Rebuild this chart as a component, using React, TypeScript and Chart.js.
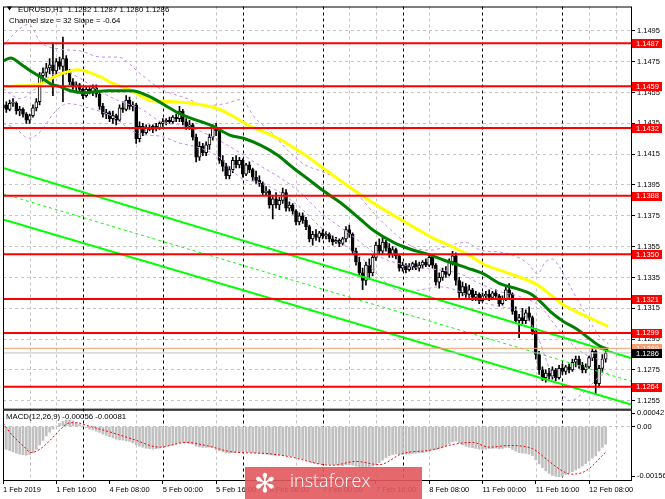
import React, { useEffect, useRef } from 'react';
import { Chart, registerables } from 'chart.js';

Chart.register(...registerables);

// ---------- DATA ----------
const symbolText = 'EURUSD,H1';
const lastOHLC = [1.1282, 1.1287, 1.128, 1.1286];
const channelText = 'Channel size = 32 Slope = -0.64';
const macdText = 'MACD(12,26,9) -0.00056 -0.00081';

const xLabelBars = [0, 16, 32, 48, 64, 80, 96, 112, 128, 144, 160, 176];
const xLabels = ['1 Feb 2019', '1 Feb 16:00', '4 Feb 08:00', '5 Feb 00:00', '5 Feb 16:00', '6 Feb 08:00', '7 Feb 00:00', '7 Feb 16:00', '8 Feb 08:00', '11 Feb 00:00', '11 Feb 16:00', '12 Feb 08:00'];
const gridBars = [8, 16, 40, 64, 88, 104, 112, 128, 160, 176, 184];
const separatorBars = [24, 48, 72, 96, 120, 144, 168];
const priceTicks = [1.1255, 1.1275, 1.1295, 1.1315, 1.1335, 1.1355, 1.1375, 1.1395, 1.1415, 1.1435, 1.1455, 1.1475, 1.1495];
const macdTicks = [0.00042, 0, -0.00156];

const levels = [1.1487, 1.1459, 1.1432, 1.1388, 1.135, 1.1321, 1.1299, 1.1264];
const askLevel = 1.1289;
const bidLevel = 1.1286;

const opens = [
  1.1445, 1.1447, 1.1444, 1.1448, 1.1448, 1.1443, 1.1444, 1.1441, 1.1437, 1.144,
  1.1445, 1.1449, 1.1466, 1.1468, 1.1471, 1.1473, 1.1469, 1.1475, 1.1472, 1.1477,
  1.1469, 1.1462, 1.1459, 1.146, 1.1457, 1.1453, 1.1457, 1.1455, 1.1458, 1.1454,
  1.1446, 1.1441, 1.1442, 1.1438, 1.144, 1.1437, 1.1445, 1.1444, 1.145, 1.1446,
  1.1447, 1.1425, 1.1433, 1.1429, 1.1432, 1.1431, 1.1433, 1.1432, 1.1435, 1.1436,
  1.1437, 1.1436, 1.1439, 1.1438, 1.1443, 1.1436, 1.1433, 1.1434, 1.1426, 1.1413,
  1.142, 1.1416, 1.1421, 1.1426, 1.1432, 1.143, 1.1411, 1.1407, 1.1401, 1.1405,
  1.1411, 1.1408, 1.1411, 1.1402, 1.1408, 1.1405, 1.14, 1.1398, 1.1396, 1.139,
  1.1391, 1.1382, 1.1386, 1.1382, 1.1385, 1.139, 1.138, 1.1382, 1.1378, 1.1371,
  1.1375, 1.1372, 1.1368, 1.136, 1.1363, 1.1361, 1.1364, 1.1362, 1.1363, 1.136,
  1.1358, 1.1359, 1.1357, 1.136, 1.1366, 1.1363, 1.1352, 1.1345, 1.1338, 1.1333,
  1.1343, 1.1338, 1.1348, 1.1356, 1.1352, 1.1358, 1.1354, 1.135, 1.1353, 1.1349,
  1.1341, 1.1343, 1.134, 1.1342, 1.1344, 1.1341, 1.1343, 1.1345, 1.1343, 1.1348,
  1.1343, 1.1332, 1.1335, 1.1339, 1.1337, 1.1345, 1.1349, 1.1333, 1.1325, 1.1329,
  1.1324, 1.1327, 1.1322, 1.1324, 1.132, 1.1323, 1.1324, 1.1322, 1.1325, 1.1323,
  1.1318, 1.1321, 1.1327, 1.1324, 1.1313, 1.1307, 1.1309, 1.1307, 1.1312, 1.1309,
  1.13, 1.1285, 1.1275, 1.127, 1.1273, 1.1271, 1.1275, 1.127, 1.1276, 1.1274,
  1.1277, 1.1275, 1.128, 1.1282, 1.1278, 1.1275, 1.1277, 1.1283, 1.1287, 1.1266,
  1.1276, 1.1282,
];
const highs = [
  1.145, 1.1449, 1.145, 1.1451, 1.1449, 1.1446, 1.1445, 1.1442, 1.1441, 1.1447,
  1.1451, 1.1468, 1.1471, 1.1474, 1.1477, 1.1487, 1.1477, 1.1478, 1.1491, 1.1479,
  1.147, 1.1464, 1.1462, 1.1461, 1.1458, 1.1459, 1.1459, 1.146, 1.146, 1.1455,
  1.1448, 1.1444, 1.1443, 1.1443, 1.1441, 1.1447, 1.1449, 1.1453, 1.1452, 1.1449,
  1.1448, 1.1436, 1.1435, 1.1434, 1.1434, 1.1434, 1.1435, 1.1436, 1.1438, 1.1438,
  1.1439, 1.144, 1.1441, 1.1446, 1.1444, 1.1438, 1.1437, 1.1435, 1.1428, 1.1423,
  1.1422, 1.1423, 1.1428, 1.1434, 1.1435, 1.1431, 1.1414, 1.1409, 1.1407, 1.1413,
  1.1414, 1.1413, 1.1412, 1.1409, 1.141, 1.1406, 1.1404, 1.1401, 1.1397, 1.1394,
  1.1392, 1.1388, 1.139, 1.1387, 1.1393, 1.1392, 1.1384, 1.1383, 1.1379, 1.1377,
  1.1377, 1.1374, 1.1369, 1.1365, 1.1366, 1.1365, 1.1366, 1.1365, 1.1364, 1.1362,
  1.1361, 1.136, 1.1361, 1.1368, 1.1369, 1.1364, 1.1354, 1.1348, 1.1341, 1.1345,
  1.1347, 1.135, 1.1358, 1.136, 1.1361, 1.1359, 1.1357, 1.1355, 1.1354, 1.135,
  1.1345, 1.1344, 1.1344, 1.1345, 1.1346, 1.1345, 1.1346, 1.1347, 1.135, 1.1349,
  1.1344, 1.1338, 1.1341, 1.1342, 1.1347, 1.1352, 1.1351, 1.1335, 1.1332, 1.1331,
  1.133, 1.1328, 1.1326, 1.1325, 1.1325, 1.1326, 1.1327, 1.1326, 1.1327, 1.1324,
  1.1323, 1.1329, 1.1331, 1.1325, 1.1316, 1.1311, 1.1315, 1.1314, 1.1316, 1.131,
  1.1302, 1.1287, 1.1277, 1.1275, 1.1276, 1.1277, 1.1276, 1.1278, 1.1279, 1.1278,
  1.1279, 1.1282, 1.1284, 1.1284, 1.128, 1.1279, 1.1284, 1.1289, 1.1288, 1.1278,
  1.1285, 1.1287,
];
const lows = [
  1.1441, 1.1442, 1.1443, 1.1446, 1.1441, 1.144, 1.1439, 1.1435, 1.1435, 1.1439,
  1.1443, 1.1447, 1.1462, 1.1465, 1.1467, 1.1453, 1.1466, 1.147, 1.1449, 1.1467,
  1.146, 1.1457, 1.1456, 1.1455, 1.1451, 1.1452, 1.1454, 1.1453, 1.1452, 1.1444,
  1.1439, 1.1438, 1.1436, 1.1435, 1.1434, 1.1436, 1.1442, 1.1443, 1.1444, 1.1443,
  1.1422, 1.1423, 1.1427, 1.1428, 1.143, 1.1429, 1.143, 1.1431, 1.1433, 1.1434,
  1.1435, 1.1435, 1.1436, 1.1436, 1.1434, 1.1431, 1.1431, 1.1424, 1.141, 1.1411,
  1.1414, 1.1414, 1.1418, 1.1424, 1.1427, 1.1409, 1.1404, 1.1399, 1.1399, 1.1403,
  1.1406, 1.1406, 1.14, 1.1401, 1.1403, 1.1398, 1.1396, 1.1394, 1.1388, 1.1388,
  1.138, 1.1373, 1.138, 1.1379, 1.1383, 1.1378, 1.1378, 1.1376, 1.1369, 1.1369,
  1.137, 1.1366, 1.1358, 1.1356, 1.1359, 1.1358, 1.136, 1.136, 1.1358, 1.1356,
  1.1357, 1.1355, 1.1356, 1.1358, 1.1361, 1.135, 1.1343, 1.1336, 1.1327, 1.133,
  1.1335, 1.1336, 1.1346, 1.135, 1.135, 1.1352, 1.1348, 1.1348, 1.1347, 1.1339,
  1.1339, 1.1338, 1.1339, 1.134, 1.134, 1.1339, 1.1341, 1.1342, 1.1342, 1.1341,
  1.133, 1.1328, 1.1333, 1.1335, 1.1336, 1.1343, 1.133, 1.1322, 1.1323, 1.1322,
  1.1322, 1.132, 1.132, 1.1318, 1.1319, 1.1321, 1.132, 1.1321, 1.1322, 1.1316,
  1.1317, 1.132, 1.1322, 1.1311, 1.1305, 1.1296, 1.1305, 1.1305, 1.1307, 1.1298,
  1.1282, 1.1272, 1.1268, 1.1267, 1.1269, 1.1269, 1.1268, 1.1269, 1.1272, 1.1272,
  1.1273, 1.1274, 1.1277, 1.1276, 1.1273, 1.1273, 1.1276, 1.1281, 1.1259, 1.1264,
  1.1274, 1.128,
];
const closes = [
  1.1447, 1.1444, 1.1448, 1.1448, 1.1443, 1.1444, 1.1441, 1.1437, 1.144, 1.1445,
  1.1449, 1.1466, 1.1468, 1.1471, 1.1473, 1.1469, 1.1475, 1.1472, 1.1477, 1.1469,
  1.1462, 1.1459, 1.146, 1.1457, 1.1453, 1.1457, 1.1455, 1.1458, 1.1454, 1.1446,
  1.1441, 1.1442, 1.1438, 1.144, 1.1437, 1.1445, 1.1444, 1.145, 1.1446, 1.1447,
  1.1425, 1.1433, 1.1429, 1.1432, 1.1431, 1.1433, 1.1432, 1.1435, 1.1436, 1.1437,
  1.1436, 1.1439, 1.1438, 1.1443, 1.1436, 1.1433, 1.1434, 1.1426, 1.1413, 1.142,
  1.1416, 1.1421, 1.1426, 1.1432, 1.143, 1.1411, 1.1407, 1.1401, 1.1405, 1.1411,
  1.1408, 1.1411, 1.1402, 1.1408, 1.1405, 1.14, 1.1398, 1.1396, 1.139, 1.1391,
  1.1382, 1.1386, 1.1382, 1.1385, 1.139, 1.138, 1.1382, 1.1378, 1.1371, 1.1375,
  1.1372, 1.1368, 1.136, 1.1363, 1.1361, 1.1364, 1.1362, 1.1363, 1.136, 1.1358,
  1.1359, 1.1357, 1.136, 1.1366, 1.1363, 1.1352, 1.1345, 1.1338, 1.1333, 1.1343,
  1.1338, 1.1348, 1.1356, 1.1352, 1.1358, 1.1354, 1.135, 1.1353, 1.1349, 1.1341,
  1.1343, 1.134, 1.1342, 1.1344, 1.1341, 1.1343, 1.1345, 1.1343, 1.1348, 1.1343,
  1.1332, 1.1335, 1.1339, 1.1337, 1.1345, 1.1349, 1.1333, 1.1325, 1.1329, 1.1324,
  1.1327, 1.1322, 1.1324, 1.132, 1.1323, 1.1324, 1.1322, 1.1325, 1.1323, 1.1318,
  1.1321, 1.1327, 1.1324, 1.1313, 1.1307, 1.1309, 1.1307, 1.1312, 1.1309, 1.13,
  1.1285, 1.1275, 1.127, 1.1273, 1.1271, 1.1275, 1.127, 1.1276, 1.1274, 1.1277,
  1.1275, 1.128, 1.1282, 1.1278, 1.1275, 1.1277, 1.1283, 1.1287, 1.1266, 1.1276,
  1.1282, 1.1286,
];

const macdHist = [
  -0.00069, -0.00072, -0.00076, -0.0008, -0.00084, -0.00087, -0.00089, -0.0009, -0.00088, -0.00082,
  -0.00072, -0.00058, -0.00044, -0.0003, -0.00018, -0.00008, 0.00002, 0.0001, 0.00016, 0.0002,
  0.00021, 0.00018, 0.00012, 0.00006, 0.00002, -0.00004, -0.00008, -0.00011, -0.00015, -0.00019,
  -0.00024, -0.00028, -0.00032, -0.00036, -0.0004, -0.00042, -0.00043, -0.00045, -0.00047, -0.00052,
  -0.00058, -0.00062, -0.00065, -0.00068, -0.0007, -0.00071, -0.0007, -0.00068, -0.00064, -0.00061,
  -0.0006, -0.00058, -0.00055, -0.00052, -0.0005, -0.00051, -0.00053, -0.00056, -0.00062, -0.00064,
  -0.00066, -0.00066, -0.00065, -0.00066, -0.00072, -0.00076, -0.0008, -0.00083, -0.00084, -0.00082,
  -0.00081, -0.0008, -0.00081, -0.0008, -0.00081, -0.00082, -0.00083, -0.00084, -0.00086, -0.00087,
  -0.00089, -0.0009, -0.00091, -0.0009, -0.0009, -0.00092, -0.00093, -0.00094, -0.00097, -0.001,
  -0.00102, -0.00106, -0.0011, -0.00114, -0.00116, -0.00117, -0.00118, -0.00118, -0.00119, -0.0012,
  -0.00121, -0.00122, -0.00123, -0.00121, -0.0012, -0.00122, -0.00125, -0.00128, -0.00131, -0.0013,
  -0.00128, -0.00125, -0.0012, -0.00114, -0.00106, -0.00098, -0.00092, -0.00088, -0.00086, -0.00087,
  -0.00088, -0.00087, -0.00086, -0.00085, -0.00084, -0.00083, -0.00082, -0.0008, -0.00077, -0.00074,
  -0.00073, -0.0007, -0.00066, -0.0006, -0.00054, -0.00048, -0.00046, -0.00052, -0.00058, -0.00062,
  -0.00065, -0.00067, -0.00069, -0.00071, -0.00072, -0.00071, -0.0007, -0.00069, -0.00068, -0.0007,
  -0.00069, -0.00066, -0.00067, -0.00072, -0.00078, -0.00082, -0.00084, -0.00085, -0.00087, -0.00092,
  -0.00105, -0.00118, -0.0013, -0.0014, -0.00148, -0.00154, -0.00157, -0.00158, -0.00157, -0.00152,
  -0.00147, -0.00142, -0.00137, -0.00131, -0.00124, -0.00117, -0.00108, -0.001, -0.00093, -0.00078,
  -0.00066, -0.00056,
];

const macdSignal = [
  [0, 0.0001], [3, -0.0003], [6, -0.0006], [8.5, -0.00082], [11, -0.00072], [14, -0.00045],
  [17, -0.00012], [19.5, 0.0001], [22, 0.00012], [25, 0.00004], [29, -0.00008], [33, -0.0002],
  [39, -0.0004], [47, -0.00065], [55, -0.0005], [61, -0.0006], [69, -0.0008], [79, -0.00085],
  [87, -0.00097], [95, -0.00118], [99, -0.00122], [106, -0.0011], [113, -0.0012], [120, -0.00085],
  [128, -0.00075], [136, -0.00055], [141, -0.0005], [146, -0.00065], [152, -0.0006], [159, -0.0007],
  [164, -0.0011], [168, -0.0014], [170.5, -0.0015], [175, -0.0014], [181, -0.00081],
];

const maYellow = [
  [0, 1.14587], [5.3, 1.14594], [11.3, 1.14606], [14.3, 1.14639], [17.3, 1.14671], [20.3, 1.1469],
  [22.4, 1.14697], [25.4, 1.14684], [29.3, 1.14651], [33.2, 1.14606], [37.4, 1.14574], [41.3, 1.14529],
  [44.3, 1.14497], [50.3, 1.14491], [57.2, 1.14478], [64.4, 1.14446], [69.2, 1.14394], [74.3, 1.1433],
  [79.4, 1.14285], [84.2, 1.14234], [88.4, 1.14176], [90.8, 1.14144], [95.3, 1.14073], [101.4, 1.13977],
  [107.4, 1.13887], [113.4, 1.13803], [119.4, 1.13726], [124.5, 1.13662], [129.3, 1.13604], [135.3, 1.13546],
  [140.4, 1.13488], [144.3, 1.13437], [152.4, 1.13373], [160.5, 1.13302], [164.4, 1.13238], [168.3, 1.13173],
  [173.4, 1.13115], [177.3, 1.13077], [181.8, 1.13032],
];
const maGreen = [
  [0, 1.14754], [2.3, 1.14774], [5.3, 1.14735], [8.3, 1.1469], [11.3, 1.14651], [14.3, 1.14606],
  [17.3, 1.14587], [20.3, 1.14561], [24.2, 1.14549], [27.2, 1.14555], [31.4, 1.14561], [34.4, 1.14561],
  [38.3, 1.14561], [40.4, 1.14555], [43.4, 1.14529], [45.8, 1.14504], [50.3, 1.14446], [54.2, 1.14401],
  [59.3, 1.14362], [63.2, 1.1433], [68.3, 1.14272], [72.2, 1.14253], [77.3, 1.14208], [82.4, 1.14144],
  [87.2, 1.1406], [92.3, 1.13977], [96.2, 1.13912], [101.4, 1.13835], [107.4, 1.13726], [111.3, 1.13655],
  [117.3, 1.13578], [122.4, 1.13533], [127.5, 1.13501], [132.3, 1.13463], [135.9, 1.13437], [139.5, 1.13411],
  [144.3, 1.13373], [149.4, 1.13308], [154.5, 1.13276], [158.4, 1.13244], [161.4, 1.13193], [164.4, 1.13128],
  [168.3, 1.13064], [172.5, 1.13013], [176.4, 1.12948], [179.4, 1.12903], [181.8, 1.12884],
];

const bandUpper = [
  [0, 1.14851], [3.8, 1.14941], [7.7, 1.14992], [11.3, 1.14876], [17.3, 1.14831], [23.3, 1.14819],
  [29.3, 1.1478], [34.4, 1.1478], [41.3, 1.14671], [47.3, 1.14574], [55.4, 1.1451], [60.8, 1.14465],
  [66.8, 1.14478], [71.3, 1.14504], [75.8, 1.14382], [80.3, 1.14298], [86.3, 1.14157], [90.8, 1.14079],
  [95.4, 1.14041], [101.4, 1.13977], [105.9, 1.139], [111.8, 1.13758], [117.9, 1.1363], [123.3, 1.13546],
  [128.4, 1.13527], [134.4, 1.13559], [138.9, 1.13578], [143.4, 1.13527], [149.4, 1.13514], [153.9, 1.13488],
  [157.8, 1.13437], [160.5, 1.13373], [162.9, 1.1345], [165, 1.13469], [167.3, 1.13411], [170.4, 1.13289],
  [173.4, 1.13173], [176.4, 1.1306], [179.4, 1.1296], [181.8, 1.1292],
];
const bandMiddle = [
  [0, 1.14574], [5.3, 1.1451], [9.8, 1.14574], [14.3, 1.14658], [18.8, 1.14684], [23.3, 1.14639],
  [29.3, 1.14555], [35.3, 1.14491], [41.3, 1.14446], [47.3, 1.14362], [53.3, 1.14337], [59.3, 1.14298],
  [65.3, 1.14234], [71.3, 1.14157], [77.3, 1.14073], [83.3, 1.13996], [89.3, 1.139], [95.4, 1.13771],
  [101.4, 1.13675], [107.4, 1.13578], [113.4, 1.13482], [119.4, 1.13437], [125.4, 1.13411], [131.4, 1.13398],
  [137.4, 1.13373], [143.4, 1.13308], [149.4, 1.13257], [155.4, 1.13225], [161.4, 1.1316], [167.3, 1.13],
  [173.4, 1.12871], [179.4, 1.1282], [181.8, 1.1282],
];
const bandLower = [
  [0, 1.14349], [3.8, 1.14317], [7.7, 1.14253], [11.3, 1.14298], [15.2, 1.14414], [19.4, 1.14478],
  [26.3, 1.14446], [32.3, 1.14401], [40.4, 1.14285], [47.3, 1.14266], [53.3, 1.14221], [59.3, 1.14189],
  [65.3, 1.14124], [71.3, 1.13996], [77.3, 1.13964], [83.3, 1.139], [89.3, 1.13803], [95.4, 1.13675],
  [101.4, 1.13578], [107.4, 1.13482], [111.8, 1.13385], [116.4, 1.13289], [120.9, 1.13257], [125.4, 1.1327],
  [131.4, 1.13289], [137.4, 1.13257], [143.4, 1.13193], [149.4, 1.1316], [155.4, 1.13128], [159.9, 1.13],
  [164.4, 1.12743], [167.3, 1.12614], [170.4, 1.1255], [174.9, 1.12614], [179.4, 1.12711], [181.8, 1.1273],
];

const X_MIN = 0;
const X_MAX = 188.9;
const channelUpper = [1.1406, 1.12826];
const channelMiddle = [1.13893, 1.12675];
const channelLower = [1.13726, 1.12524];

// ---------- CHART ----------
const FONT = "'Liberation Sans', Arial, sans-serif";
const pts = (arr: number[][]) => arr.map(([x, y]) => ({ x, y }));
const edge = (pair: number[]) => [{ x: X_MIN, y: pair[0] }, { x: X_MAX, y: pair[1] }];

const mt4Plugin = {
  id: 'mt4',
  beforeDatasetsDraw(chart: any) {
    const { ctx, chartArea, scales } = chart;
    const xs = scales.x;
    ctx.save();
    ctx.lineWidth = 1;
    ctx.setLineDash([3, 3]);
    const vline = (b: number, color: string) => {
      const x = Math.round(xs.getPixelForValue(b)) + 0.5;
      if (x < chartArea.left || x > chartArea.right) return;
      ctx.strokeStyle = color;
      ctx.beginPath();
      ctx.moveTo(x, chartArea.top);
      ctx.lineTo(x, chartArea.bottom);
      ctx.stroke();
    };
    gridBars.forEach((b) => vline(b, '#c4c4c4'));
    separatorBars.forEach((b) => vline(b, '#000000'));
    ctx.restore();
  },
  afterDatasetsDraw(chart: any) {
    const { ctx, chartArea, scales } = chart;
    const y = scales.y;
    const y2 = scales.y2;
    ctx.save();
    ctx.setLineDash([]);
    ctx.strokeStyle = '#000';
    ctx.lineWidth = 1;
    const w = chartArea.right - chartArea.left;
    ctx.strokeRect(chartArea.left + 0.5, y.top + 0.5, w - 1, y.bottom - y.top - 1);
    ctx.strokeRect(chartArea.left + 0.5, y2.top + 0.5, w - 1, y2.bottom - y2.top - 1);

    // header texts
    ctx.fillStyle = '#000';
    ctx.font = `7.8px ${FONT}`;
    ctx.textAlign = 'left';
    ctx.textBaseline = 'middle';
    ctx.beginPath();
    ctx.moveTo(7, 6.5);
    ctx.lineTo(12, 6.5);
    ctx.lineTo(9.5, 10.5);
    ctx.closePath();
    ctx.fill();
    ctx.fillText(`${symbolText}  ${lastOHLC.map((v) => v.toFixed(4)).join(' ')}`, 18, 9.5);
    ctx.fillText(channelText, 9, 20.5);
    ctx.fillText(macdText, 6, 417);

    // price tags
    ctx.font = `7.5px ${FONT}`;
    const tag = (val: number, bg: string) => {
      const py = y.getPixelForValue(val);
      ctx.fillStyle = bg;
      ctx.fillRect(chartArea.right, Math.round(py) - 4, 30, 9);
      ctx.fillStyle = '#fff';
      ctx.fillText(val.toFixed(4), chartArea.right + 4, py + 0.5);
    };
    levels.forEach((l) => tag(l, '#ff0000'));
    tag(askLevel, '#f4a070');
    tag(bidLevel, '#000000');
    ctx.restore();
  },
};

function buildConfig(): any {
  const n = closes.length;
  const idx = Array.from({ length: n }, (_, i) => i);
  const lineBase = { type: 'line', pointRadius: 0, fill: false, yAxisID: 'y' };
  const bandStyle = { ...lineBase, borderColor: '#c58be9', borderWidth: 1, borderDash: [3, 3], cubicInterpolationMode: 'monotone', order: 7 };
  const datasets: any[] = [
    {
      type: 'bar', yAxisID: 'y2', grouped: false, order: 10,
      data: idx.map((i) => ({ x: i, y: macdHist[i] })),
      backgroundColor: '#c0c0c0', barThickness: 2,
    },
    {
      type: 'bar', yAxisID: 'y', grouped: false, order: 9,
      data: idx.map((i) => ({ x: i, y: [lows[i], highs[i]] })),
      backgroundColor: '#000', barThickness: 1,
    },
    {
      type: 'bar', yAxisID: 'y', grouped: false, order: 8,
      data: idx.map((i) => ({ x: i, y: [opens[i], closes[i]] })),
      backgroundColor: idx.map((i) => (closes[i] >= opens[i] ? '#ffffff' : '#000000')),
      borderColor: '#000', borderWidth: 1, borderSkipped: false, barThickness: 3, minBarLength: 1,
    },
    { ...bandStyle, data: pts(bandUpper) },
    { ...bandStyle, data: pts(bandMiddle) },
    { ...bandStyle, data: pts(bandLower) },
    { ...lineBase, data: edge(channelUpper), borderColor: '#00ff00', borderWidth: 2, order: 6 },
    { ...lineBase, data: edge(channelMiddle), borderColor: '#00ff00', borderWidth: 1, borderDash: [3, 3], order: 6 },
    { ...lineBase, data: edge(channelLower), borderColor: '#00ff00', borderWidth: 2, order: 6 },
    {
      ...lineBase, yAxisID: 'y2', data: pts(macdSignal), borderColor: '#ff0000', borderWidth: 1,
      borderDash: [2, 2], cubicInterpolationMode: 'monotone', order: 5,
    },
    { ...lineBase, data: pts(maYellow), borderColor: '#ffff00', borderWidth: 3, cubicInterpolationMode: 'monotone', order: 4 },
    { ...lineBase, data: pts(maGreen), borderColor: '#008000', borderWidth: 3, cubicInterpolationMode: 'monotone', order: 3 },
    { ...lineBase, data: edge([bidLevel, bidLevel]), borderColor: '#c0c0c0', borderWidth: 1, order: 2 },
    { ...lineBase, data: edge([askLevel, askLevel]), borderColor: '#f4a070', borderWidth: 1, order: 2 },
    ...levels.map((l) => ({ ...lineBase, data: edge([l, l]), borderColor: '#ff0000', borderWidth: 2, order: 1 })),
  ];

  return {
    type: 'line',
    data: { datasets },
    plugins: [mt4Plugin],
    options: {
      animation: false,
      responsive: false,
      events: [],
      layout: { padding: { left: 3, top: 2, right: 0, bottom: 0 } },
      plugins: { legend: { display: false }, tooltip: { enabled: false } },
      scales: {
        x: {
          type: 'linear', min: X_MIN, max: X_MAX, offset: false,
          afterBuildTicks: (axis: any) => { axis.ticks = xLabelBars.map((v) => ({ value: v })); },
          afterFit: (axis: any) => { axis.height = 18; },
          ticks: {
            callback: (_v: any, i: number) => xLabels[i] ?? '',
            align: 'start', maxRotation: 0, minRotation: 0, autoSkip: false,
            color: '#000', padding: 1, font: { family: FONT, size: 7.5 },
          },
          grid: { drawOnChartArea: false, drawTicks: true, tickLength: 3, tickColor: '#000', offset: false },
          border: { display: false },
        },
        y: {
          type: 'linear', position: 'right', stack: 'panes', stackWeight: 407,
          min: 1.12492, max: 1.15108,
          afterBuildTicks: (axis: any) => { axis.ticks = priceTicks.map((v) => ({ value: v })); },
          afterFit: (axis: any) => { axis.width = 33; },
          ticks: {
            callback: (v: any) => Number(v).toFixed(4), autoSkip: false,
            color: '#000', padding: 2, font: { family: FONT, size: 7.5 },
          },
          grid: { color: '#c4c4c4', tickColor: '#000', tickLength: 3, drawTicks: true },
          border: { display: false, dash: [3, 3] },
        },
        y2: {
          type: 'linear', position: 'right', stack: 'panes', stackWeight: 72,
          min: -0.001716, max: 0.00053,
          afterBuildTicks: (axis: any) => { axis.ticks = macdTicks.map((v) => ({ value: v })); },
          afterFit: (axis: any) => { axis.width = 33; },
          ticks: {
            callback: (v: any) => (Number(v) === 0 ? '0.00' : Number(v).toFixed(5)), autoSkip: false,
            color: '#000', padding: 2, font: { family: FONT, size: 7.5 },
          },
          grid: {
            color: (c: any) => (c.tick && c.tick.value === 0 ? '#c4c4c4' : 'rgba(0,0,0,0)'),
            tickColor: '#000', tickLength: 3, drawTicks: true,
          },
          border: { display: false, dash: [3, 3] },
        },
      },
    },
  };
}

export default function App() {
  const ref = useRef<HTMLCanvasElement>(null);
  useEffect(() => {
    if (!ref.current) return;
    const chart = new Chart(ref.current, buildConfig());
    return () => chart.destroy();
  }, []);
  return (
    <div style={{ position: 'fixed', left: 0, top: 0, width: 665, height: 499, background: '#fff', overflow: 'hidden' }}>
      <canvas ref={ref} width={665} height={499} style={{ display: 'block', width: 665, height: 499 }} />
      <div style={{ position: 'absolute', left: 245, top: 467, width: 177, height: 32, background: 'rgba(226,88,93,0.9)' }}>
        <span style={{ position: 'absolute', left: 9, top: 0, fontSize: 26, lineHeight: '32px', color: '#fff', fontFamily: "'DejaVu Sans', sans-serif" }}>✻</span>
        <span style={{ position: 'absolute', left: 45, top: 4, fontSize: 18, lineHeight: '18px', color: '#fff', fontFamily: "'Open Sans', sans-serif", fontWeight: 300 }}>instaforex</span>
      </div>
    </div>
  );
}
